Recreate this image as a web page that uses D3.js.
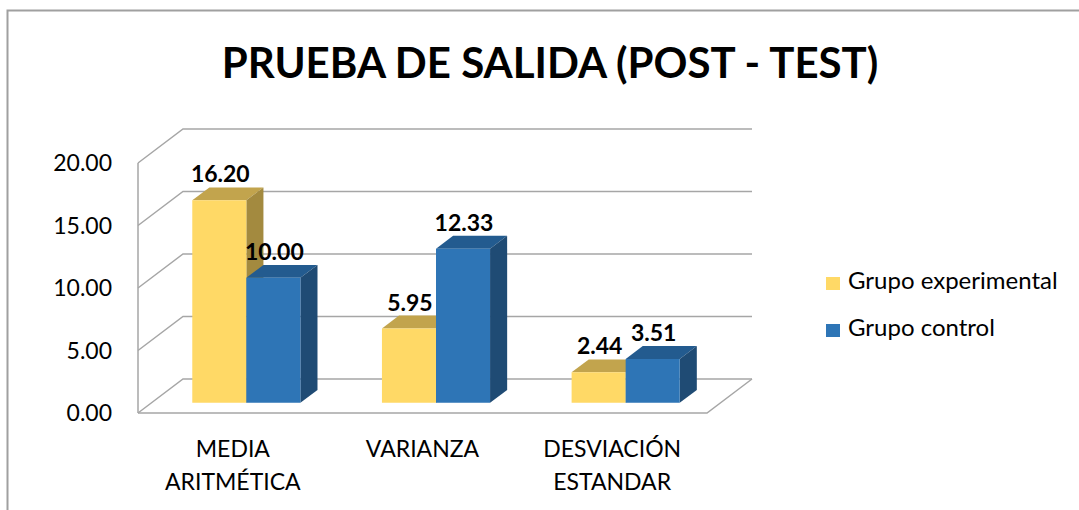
<!DOCTYPE html>
<html>
<head>
<meta charset="utf-8">
<script src="https://cdn.jsdelivr.net/npm/d3@7"></script>
<style>
  body { margin: 0; background: #fff; }
  text { font-family: Lato, "Open Sans", sans-serif; fill: #000; }
</style>
</head>
<body>
<div id="chart"></div>
<script>
var categories = [["MEDIA", "ARITMÉTICA"], ["VARIANZA"], ["DESVIACIÓN", "ESTANDAR"]];
var series = ["Grupo experimental", "Grupo control"];
var experimental = [16.20, 5.95, 2.44];
var control = [10.00, 12.33, 3.51];
var yTicks = [0, 5, 10, 15, 20];

function init() {
    var w = 1079;
    var h = 510;
    var left = 138, right = 707;     // front plane of the floor
    var bottom = 413, top = 163;
    var depth = [45, -34];           // full depth of the box
    var d0 = 0.3, d1 = 0.68;         // bars sit between these depths

    var colors = {
        "Grupo experimental": {front: "#FFD966", top: "#C2A44D", side: "#A38A3F"},
        "Grupo control": {front: "#2E75B6", top: "#235B8F", side: "#1F4B74"}
    };
    var values = {"Grupo experimental": experimental, "Grupo control": control};

    var svg = d3.select("#chart")
        .append("svg")
        .attr("width", w)
        .attr("height", h);

    // outer frame
    svg.append("path")
        .attr("d", "M7.5," + h + "V10.5H" + w)
        .attr("fill", "none")
        .attr("stroke", "#A0A0A0")
        .attr("stroke-width", 2);

    // Scales
    var xScale = d3.scaleBand()
        .domain(d3.range(categories.length))
        .range([left, right])
        .paddingInner(0.43)
        .paddingOuter(0.215);

    var xSub = d3.scaleBand()
        .domain(series)
        .range([0, xScale.bandwidth()]);

    var yScale = d3.scaleLinear()
        .domain([0, 20])
        .range([bottom, top]);

    function pt(x, y, d) {
        return [x + d * depth[0], y + d * depth[1]];
    }

    var grid = svg.append("g")
        .attr("fill", "none")
        .attr("stroke", "#A6A6A6")
        .attr("stroke-width", 1.5);

    // walls: back gridlines and left-wall diagonals
    yTicks.forEach(function (t) {
        var y = yScale(t);
        var b = pt(left, y, 1);
        grid.append("path")
            .attr("d", "M" + left + "," + y + "L" + b + "H" + pt(right, y, 1)[0]);
    });
    grid.append("path").attr("d", "M" + left + "," + top + "V" + bottom);
    // floor front edge and right edge
    grid.append("path")
        .attr("d", "M" + left + "," + bottom + "H" + right + "L" + pt(right, bottom, 1));

    // y tick labels
    svg.append("g")
        .selectAll("text")
        .data(yTicks)
        .enter()
        .append("text")
        .attr("x", 112)
        .attr("y", d => yScale(d) + 8)
        .attr("text-anchor", "end")
        .attr("font-size", "23px")
        .text(d => d3.format(".2f")(d));

    // Bars, left to right
    var bars = svg.append("g");
    var labels = [];
    categories.forEach(function (c, i) {
        series.forEach(function (s) {
            var v = values[s][i];
            var x0 = xScale(i) + xSub(s);
            var x1 = x0 + xSub.bandwidth();
            var yb = yScale(0), yt = yScale(v);
            var col = colors[s];
            var f = [pt(x0, yt, d0), pt(x1, yt, d0), pt(x1, yb, d0), pt(x0, yb, d0)];
            var tb = [pt(x0, yt, d1), pt(x1, yt, d1)];
            var sb = [pt(x1, yt, d1), pt(x1, yb, d1)];
            bars.append("polygon")
                .attr("points", [f[0], tb[0], tb[1], f[1]].join(" "))
                .attr("fill", col.top);
            bars.append("polygon")
                .attr("points", [f[1], sb[0], sb[1], f[2]].join(" "))
                .attr("fill", col.side);
            bars.append("polygon")
                .attr("points", f.join(" "))
                .attr("fill", col.front);
            labels.push({v: v, x: (x0 + x1) / 2 + 1 + d0 * depth[0], y: yt + d1 * depth[1] - 5});
        });
    });

    // data labels
    svg.append("g")
        .selectAll("text")
        .data(labels)
        .enter()
        .append("text")
        .attr("x", d => d.x)
        .attr("y", d => d.y)
        .attr("text-anchor", "middle")
        .attr("font-size", "23px")
        .attr("font-weight", "bold")
        .text(d => d3.format(".2f")(d.v));

    // category labels
    var cat = svg.append("g")
        .selectAll("text")
        .data(categories)
        .enter()
        .append("text")
        .attr("x", (d, i) => xScale(i) + xScale.bandwidth() / 2)
        .attr("y", 457)
        .attr("text-anchor", "middle")
        .attr("font-size", "23px");
    cat.selectAll("tspan")
        .data(d => d)
        .enter()
        .append("tspan")
        .attr("x", function () { return d3.select(this.parentNode).attr("x"); })
        .attr("dy", (d, j) => j ? 33 : 0)
        .text(d => d);

    // title
    svg.append("text")
        .attr("x", 550)
        .attr("y", 78)
        .attr("text-anchor", "middle")
        .attr("font-size", "42px")
        .attr("font-weight", "bold")
        .text("PRUEBA DE SALIDA (POST - TEST)");

    // legend
    var legend = svg.append("g")
        .selectAll("g")
        .data(series)
        .enter()
        .append("g")
        .attr("transform", (d, i) => `translate(826,${277 + i * 47})`);
    legend.append("rect")
        .attr("width", 14)
        .attr("height", 13)
        .attr("fill", d => colors[d].front);
    legend.append("text")
        .attr("x", 22)
        .attr("y", 12)
        .attr("font-size", "24px")
        .text(d => d);
}

window.onload = init;
</script>
</body>
</html>
